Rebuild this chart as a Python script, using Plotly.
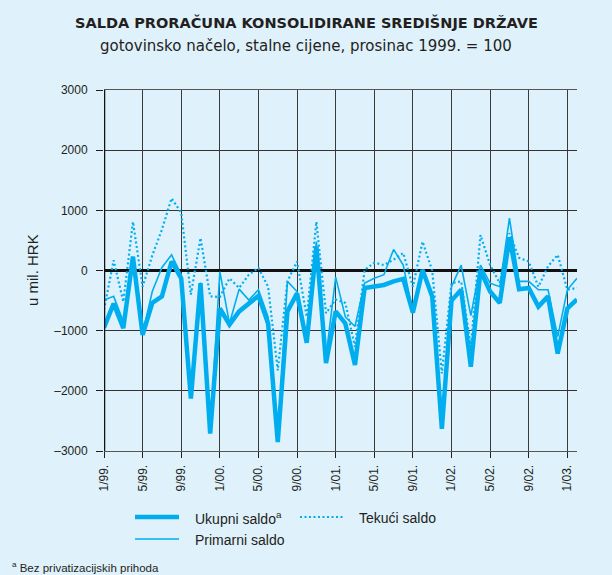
import plotly.graph_objects as go

# Monthly observations, January 1999 – February 2003
month_labels = []
for yy in ["99", "00", "01", "02", "03"]:
    for mm in range(1, 13):
        month_labels.append(f"{mm}/{yy}.")
month_labels = month_labels[:50]

tick_labels = ["1/99.", "5/99.", "9/99.", "1/00.", "5/00.", "9/00.", "1/01.",
               "5/01.", "9/01.", "1/02.", "5/02.", "9/02.", "1/03."]

# Values in millions of HRK
ukupni_saldo = [-950, -550, -960, 230, -1070, -540, -430, 150, -130, -2130,
                -210, -2710, -630, -900, -680, -540, -420, -880, -2850, -680,
                -380, -1200, 400, -1540, -680, -880, -1570, -290, -270, -240,
                -180, -140, -700, 10, -430, -2630, -500, -320, -1600, 0,
                -350, -540, 550, -310, -290, -600, -430, -1380, -630, -480]

primarni_saldo = [-490, -430, -850, 230, -1050, -350, 50, 260, -70, -2100,
                  -200, -2700, -20, -880, -310, -490, -320, -770, -2800, -180,
                  -350, -1100, 480, -1430, -110, -770, -930, -210, -130, -70,
                  350, 90, -710, 20, -400, -2550, -270, 90, -750, 90,
                  -210, -270, 870, -180, -180, -320, -320, -1100, -320, -130]

tekuci_saldo = [-650, 170, -520, 810, -270, 250, 680, 1200, 960, -400,
                540, -430, -440, -130, -290, -70, 40, -270, -1660, -180,
                150, -770, 810, -710, -480, -540, -1270, 10, 130, 90,
                180, 290, -270, 480, 0, -1710, -210, -180, -1270, 590,
                90, -210, 620, 210, 150, -270, 70, 260, -320, -290]

y_ticks = [3000, 2000, 1000, 0, -1000, -2000, -3000]
y_tick_text = ["3000", "2000", "1000", "0", "–1000", "–2000", "–3000"]

BG = "#dff1fb"
LINE = "#00aeef"
INK = "#231f20"
FONT = "Liberation Sans, Arial, sans-serif"
WIDE = "DejaVu Sans, Verdana, sans-serif"

x = list(range(len(month_labels)))
tick_pos = [month_labels.index(t) for t in tick_labels]

fig = go.Figure()
fig.add_trace(go.Scatter(x=x, y=tekuci_saldo, mode="lines", name="Tekući saldo",
                         line=dict(color=LINE, width=2.2, dash="2px,2.5px"),
                         showlegend=False))
fig.add_trace(go.Scatter(x=x, y=primarni_saldo, mode="lines", name="Primarni saldo",
                         line=dict(color=LINE, width=1.6), showlegend=False))
fig.add_trace(go.Scatter(x=x, y=ukupni_saldo, mode="lines", name="Ukupni saldo",
                         line=dict(color=LINE, width=4.5), showlegend=False))

fig.update_layout(
    width=612, height=575,
    paper_bgcolor=BG, plot_bgcolor=BG,
    margin=dict(l=104, r=35, t=90, b=124),
    font=dict(family=FONT, color=INK, size=12),
    showlegend=False,
)

fig.update_xaxes(
    range=[0, 49], tickmode="array", tickvals=tick_pos, ticktext=tick_labels,
    tickangle=-90, ticks="outside", ticklen=6, tickcolor=INK, tickwidth=1,
    ticklabelstandoff=2,
    showgrid=True, gridcolor="#3a3a3a", gridwidth=1.3,
    showline=True, linecolor="#555555", linewidth=1, mirror=True,
    zeroline=False, tickfont=dict(size=12, color=INK),
)
fig.update_yaxes(
    range=[-3000, 3000], tickmode="array", tickvals=y_ticks, ticktext=y_tick_text,
    ticks="outside", ticklen=7, tickcolor=INK, tickwidth=1,
    ticklabelstandoff=6,
    showgrid=True, gridcolor="#333333", gridwidth=1.3,
    zeroline=True, zerolinecolor="#111111", zerolinewidth=2.5,
    showline=False, tickfont=dict(size=12, color=INK),
)

# heavy left axis line
fig.add_shape(type="line", xref="x", yref="paper", x0=0, x1=0, y0=0, y1=1,
              line=dict(color="#111111", width=2.5))

plot_w = 612 - 104 - 35
plot_h = 575 - 90 - 124


def px_x(px):
    return (px - 104) / plot_w


def px_y(py):
    return (575 - 124 - py) / plot_h


# Title, subtitle and vertical axis caption
fig.add_annotation(text="<b>SALDA PRORAČUNA KONSOLIDIRANE SREDIŠNJE DRŽAVE</b>",
                   xref="paper", yref="paper", x=px_x(306), y=px_y(22),
                   xanchor="center", yanchor="middle", showarrow=False,
                   font=dict(family=WIDE, size=14.5, color=INK))
fig.add_annotation(text="gotovinsko načelo, stalne cijene, prosinac 1999. = 100",
                   xref="paper", yref="paper", x=px_x(306), y=px_y(46),
                   xanchor="center", yanchor="middle", showarrow=False,
                   font=dict(family=WIDE, size=15, color=INK))
fig.add_annotation(text="u mil. HRK", textangle=-90,
                   xref="paper", yref="paper", x=px_x(32), y=px_y(270),
                   xanchor="center", yanchor="middle", showarrow=False,
                   font=dict(size=15, color=INK))

# Legend drawn in pixel space below the plot
legend_items = [
    (135, 179, 517, dict(color=LINE, width=4.5), 193, "Ukupni saldo<sup>a</sup>"),
    (300, 343, 517, dict(color=LINE, width=2.2, dash="2px,2.5px"), 357, "Tekući saldo"),
    (135, 179, 539, dict(color=LINE, width=1.6), 193, "Primarni saldo"),
]
for x0, x1, yy, ln, tx, label in legend_items:
    fig.add_shape(type="line", xref="paper", yref="paper",
                  x0=px_x(x0), x1=px_x(x1), y0=px_y(yy), y1=px_y(yy), line=ln)
    fig.add_annotation(text=label, xref="paper", yref="paper",
                       x=px_x(tx), y=px_y(yy + 1), xanchor="left", yanchor="middle",
                       showarrow=False, font=dict(size=14, color=INK))

fig.add_annotation(text="<sup>a</sup> Bez privatizacijskih prihoda",
                   xref="paper", yref="paper", x=px_x(10), y=px_y(567),
                   xanchor="left", yanchor="middle", showarrow=False,
                   font=dict(size=11.5, color=INK))

fig.write_html("out.html")
